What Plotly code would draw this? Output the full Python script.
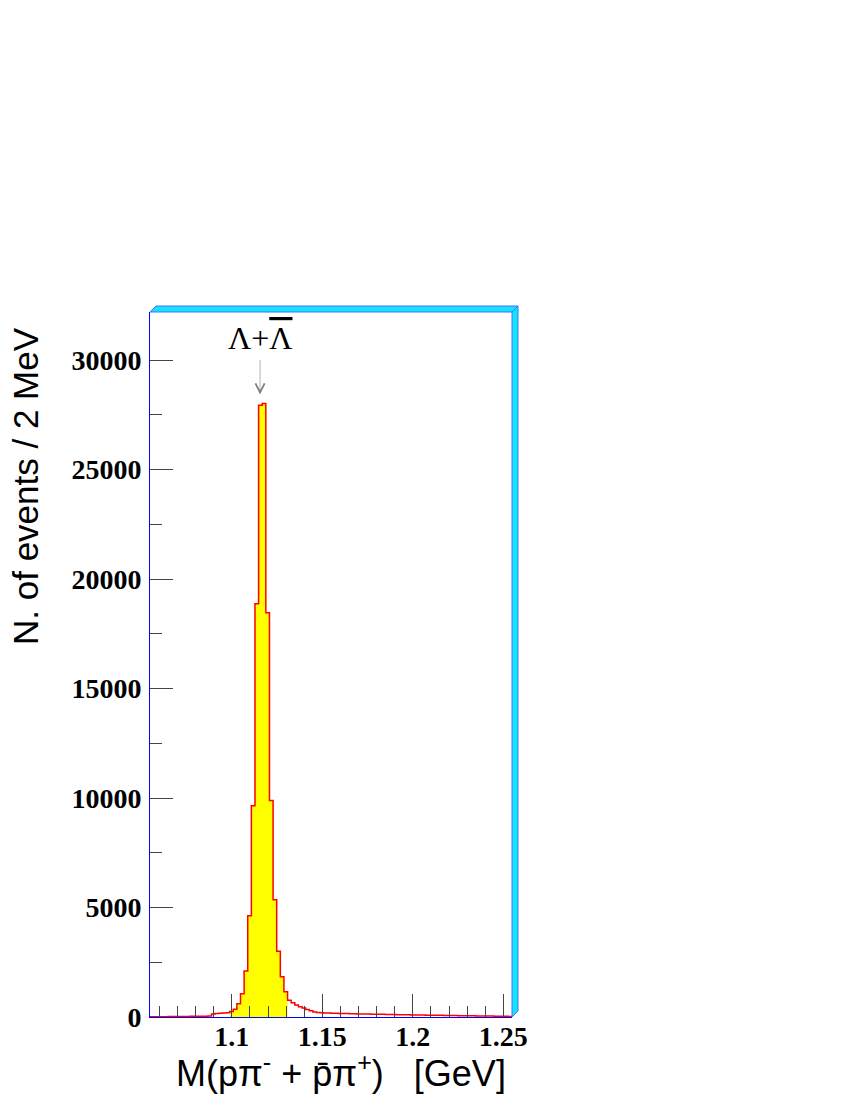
import plotly.graph_objects as go

# histogram: 100 bins of 2 MeV
x_lo = 1.0548
bin_width = 0.002
counts = [
    10, 10, 15, 15, 15, 20, 20, 20, 25, 25,
    25, 30, 30, 30, 35, 35, 40, 140, 165, 175,
    180, 190, 256, 350, 608, 1060, 2100, 4630, 9650, 18870,
    27940, 28020, 18460, 9890, 5360, 3000, 1840, 1150, 760, 650,
    550, 470, 410, 340, 290, 230, 200, 190, 185, 180,
    175, 170, 165, 160, 155, 150, 145, 140, 138, 135,
    132, 130, 128, 125, 120, 118, 115, 110, 108, 105,
    100, 98, 95, 92, 90, 88, 85, 82, 80, 78,
    75, 72, 70, 68, 65, 62, 60, 58, 55, 52,
    50, 48, 45, 42, 40, 38, 35, 32, 30, 28,
]
signal_bins = (22, 38)  # filled bins [first, last)

x_range = [1.0548, 1.2548]
y_range = [0, 32200]
x_tickvals = [1.1, 1.15, 1.2, 1.25]
x_ticktext = ["1.1", "1.15", "1.2", "1.25"]
y_tickvals = [0, 5000, 10000, 15000, 20000, 25000, 30000]
y_ticktext = ["0", "5000", "10000", "15000", "20000", "25000", "30000"]

peak_label = "\u039b+<span style='text-decoration:overline'>\u039b</span>"
peak_x = 1.1156
peak_y = 28430
peak_label_y = 31000

edges = [x_lo + i * bin_width for i in range(len(counts) + 1)]
step_y = counts + [counts[-1]]

a, b = signal_bins
fill_x = edges[a:b + 1]
fill_y = counts[a:b] + [counts[b - 1]]

fig = go.Figure()

fig.add_trace(go.Scatter(
    x=fill_x, y=fill_y,
    mode="lines", line=dict(width=0, shape="hv"),
    fill="tozeroy", fillcolor="#ffff00",
    hoverinfo="skip",
))

fig.add_trace(go.Scatter(
    x=edges, y=step_y,
    mode="lines", line=dict(color="#ff0000", width=1.5, shape="hv"),
))

# page body has an 8px margin, so plot box 150..512 x 312..1017 on the page
OFF = 8
L, R, T, B = 150, 512, 312, 1017
W, H = R - L, B - T
def px(x):
    return (x - L) / W
def py(y):
    return (B - y) / H

# 3D-looking cyan frame on top and right side
top_band = f"M {px(150)},{py(312)} L {px(156)},{py(306)} L {px(518)},{py(306)} L {px(512)},{py(312)} Z"
right_band = f"M {px(512)},{py(312)} L {px(518)},{py(306)} L {px(518)},{py(1011)} L {px(512)},{py(1017)} Z"
shapes = [
    dict(type="path", path=top_band, xref="paper", yref="paper",
         fillcolor="#10e4ff", line=dict(color="#4a6cff", width=1), layer="above"),
    dict(type="path", path=right_band, xref="paper", yref="paper",
         fillcolor="#10e4ff", line=dict(color="#4a6cff", width=1), layer="above"),
]

annotations = [
    dict(x=peak_x, y=peak_y, xref="x", yref="y", text="", showarrow=True,
         ax=0, ay=-36, arrowhead=5, arrowsize=3, arrowwidth=0.6, arrowcolor="#808080"),
    dict(x=peak_x, y=peak_label_y, xref="x", yref="y", text=peak_label, showarrow=False,
         xanchor="center", yanchor="middle",
         font=dict(family="Liberation Serif, Times New Roman", size=32, color="black")),
    dict(x=px(25), y=py(486), xref="paper", yref="paper",
         text="N. of events / 2 MeV", textangle=-90, showarrow=False,
         xanchor="center", yanchor="middle",
         font=dict(family="Liberation Sans, Arial", size=35, color="black")),
    dict(x=px(341), y=py(1071), xref="paper", yref="paper",
         text="M(p\u03c0<sup>-</sup> + p\u0304\u03c0<sup>+</sup>)\u00a0\u00a0\u00a0[GeV]",
         showarrow=False, xanchor="center", yanchor="middle",
         font=dict(family="Liberation Sans, Arial", size=36, color="black")),
]

tick_font = dict(family="Liberation Serif, Times New Roman", size=28, color="black", weight="bold")

fig.update_layout(
    width=850, height=1100,
    margin=dict(l=L - OFF, r=850 - R + OFF, t=T - OFF, b=1100 - B + OFF),
    paper_bgcolor="white", plot_bgcolor="white",
    showlegend=False,
    shapes=shapes,
    annotations=annotations,
    xaxis=dict(
        range=x_range, showgrid=False, zeroline=False,
        showline=True, linecolor="#0000ff", linewidth=1,
        tickvals=x_tickvals, ticktext=x_ticktext,
        ticks="inside", ticklen=23, tickcolor="#444", tickwidth=1,
        tickfont=tick_font, ticklabelstandoff=-6,
        minor=dict(dtick=0.01, tick0=1.0, ticks="inside", ticklen=11, tickcolor="#444", tickwidth=1, showgrid=False),
    ),
    yaxis=dict(
        range=y_range, showgrid=False, zeroline=False,
        showline=True, linecolor="#0000ff", linewidth=1,
        tickvals=y_tickvals, ticktext=y_ticktext,
        ticks="inside", ticklen=23, tickcolor="#444", tickwidth=1,
        tickfont=tick_font, ticklabelstandoff=2,
        minor=dict(dtick=2500, tick0=0, ticks="inside", ticklen=12, tickcolor="#444", tickwidth=1, showgrid=False),
    ),
)

fig.write_html("out.html")
